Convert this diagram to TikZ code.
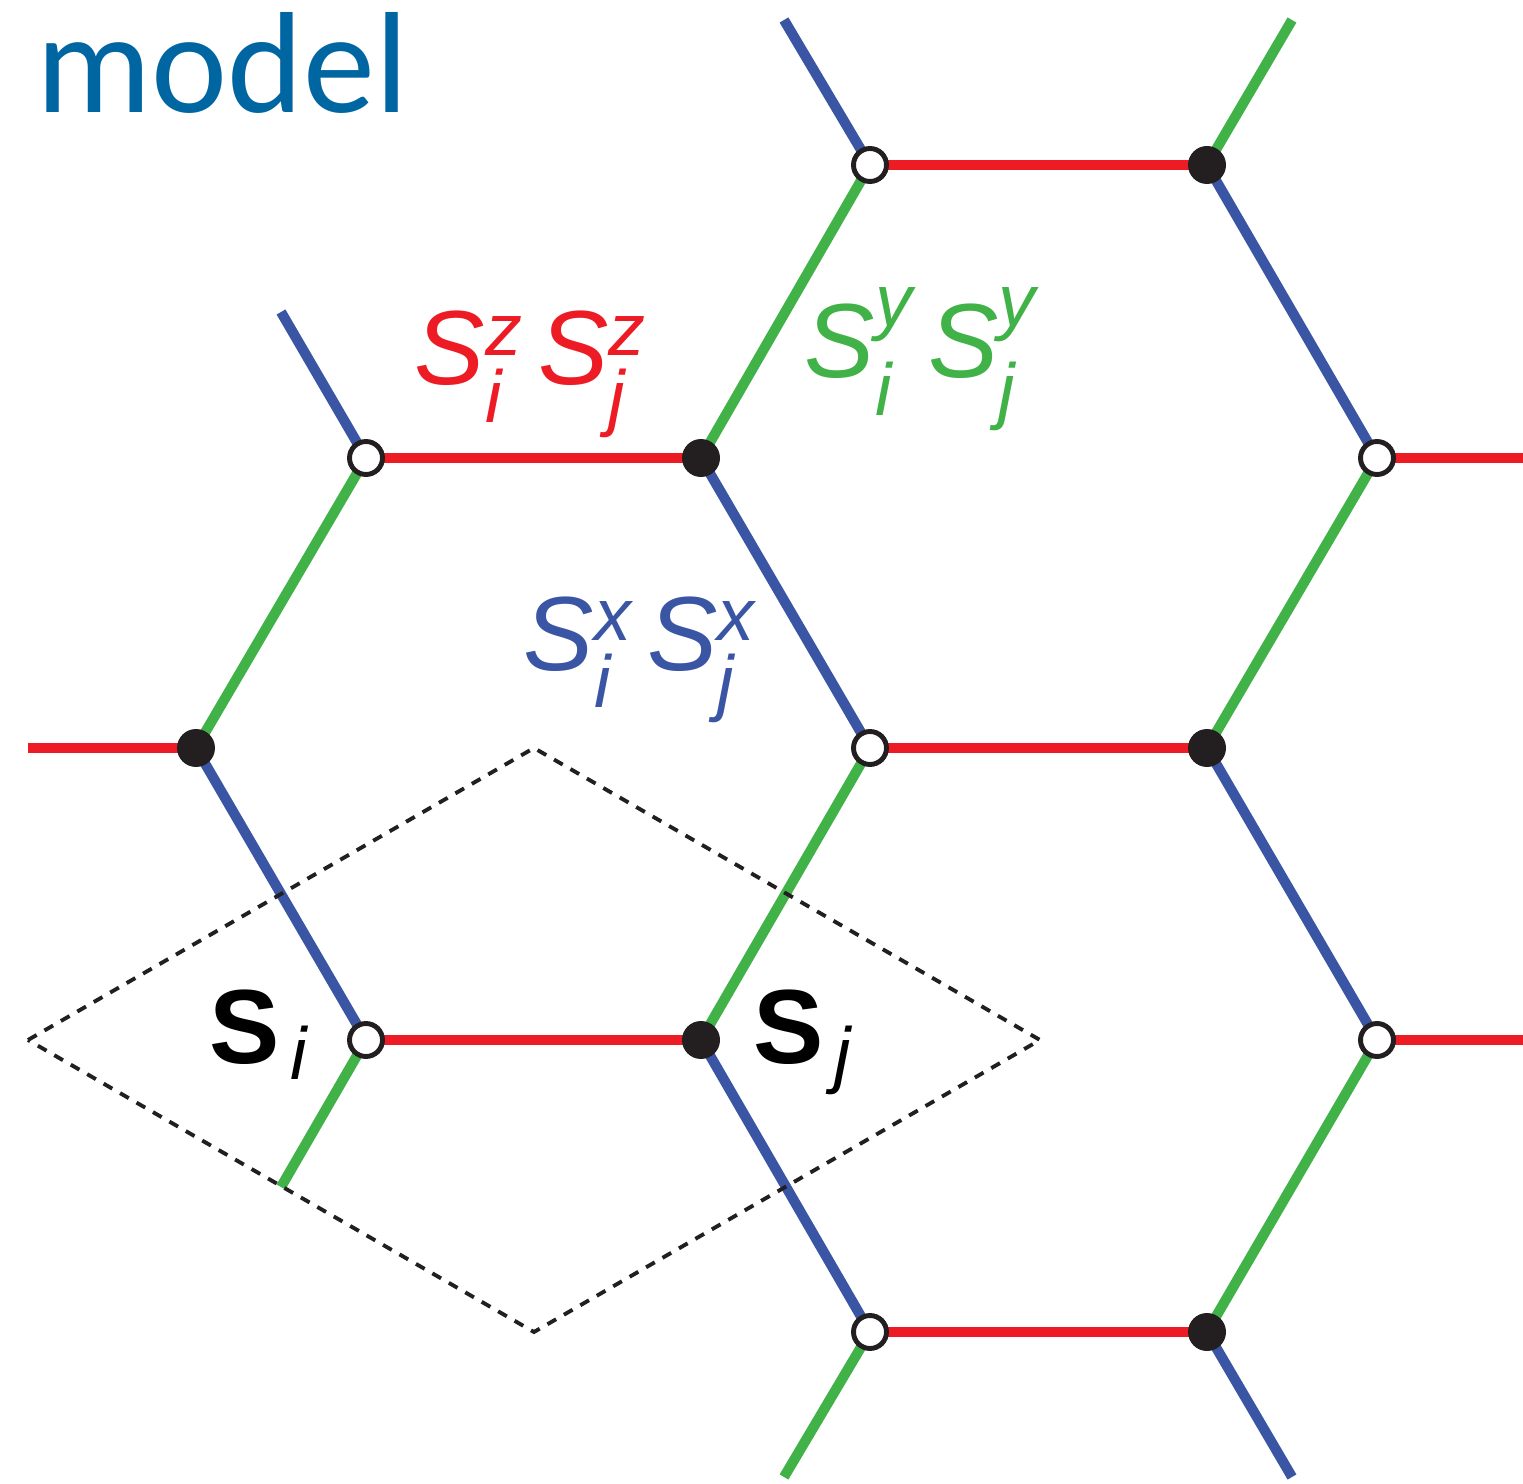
\documentclass[tikz,border=0pt]{standalone}
\usepackage{fontspec}
\setmainfont{Liberation Sans}
\newfontfamily\titlefont{Carlito}
\usetikzlibrary{backgrounds}
\definecolor{zred}{RGB}{237,28,36}
\definecolor{ygreen}{RGB}{64,178,72}
\definecolor{xblue}{RGB}{58,85,164}
\definecolor{site}{RGB}{35,31,32}
\definecolor{titleblue}{RGB}{0,102,162}

\newcommand{\spinix}[3][8.5pt]{\rlap{\raisebox{-10.8pt}{\fontsize{21}{21}\selectfont #2}}\raisebox{#1}{\fontsize{21}{21}\selectfont #3}}
\newcommand{\spinpair}[2][8.5pt]{\itshape S\spinix[#1]{i}{#2}\hspace{4.6pt}S\spinix[#1]{j}{#2}}

\begin{document}
\begin{tikzpicture}[
  opensite/.style={circle,draw=site,fill=white,line width=1.4pt,inner sep=0pt,minimum size=0.33cm},
  fullsite/.style={circle,fill=site,inner sep=0pt,minimum size=0.38cm},
  zbond/.style={zred,line width=2.9pt},
  ybond/.style={ygreen,line width=2.9pt},
  xbond/.style={xblue,line width=2.9pt},
  cellline/.style={site,line width=1.1pt,dash pattern=on 2.85pt off 2.55pt},
  spinlabel/.style={anchor=base west,font=\fontsize{30}{36}\selectfont}
]
\useasboundingbox (0,0) rectangle (15.23,-14.84);

% sites, open = A, filled = B
\node[opensite] (a1) at (8.70,-1.65) {};
\node[fullsite] (b1) at (12.07,-1.65) {};
\node[opensite] (a2) at (3.66,-4.58) {};
\node[fullsite] (b2) at (7.01,-4.58) {};
\node[opensite] (a3) at (13.77,-4.58) {};
\node[fullsite] (b3) at (1.96,-7.48) {};
\node[opensite] (a4) at (8.70,-7.48) {};
\node[fullsite] (b4) at (12.07,-7.48) {};
\node[opensite] (a5) at (3.66,-10.40) {};
\node[fullsite] (b5) at (7.01,-10.40) {};
\node[opensite] (a6) at (13.77,-10.40) {};
\node[opensite] (a7) at (8.70,-13.32) {};
\node[fullsite] (b6) at (12.07,-13.32) {};

% loose bond ends
\coordinate (t1) at (7.84,-0.20);
\coordinate (t2) at (12.92,-0.20);
\coordinate (t3) at (2.81,-3.12);
\coordinate (r1) at (15.23,-4.58);
\coordinate (l1) at (0.28,-7.48);
\coordinate (r2) at (15.23,-10.40);
\coordinate (d1) at (2.81,-11.87);
\coordinate (d2) at (7.84,-14.77);
\coordinate (d3) at (12.92,-14.77);

\begin{scope}[on background layer]
% z bonds
\draw[zbond] (a1.center) -- (b1.center);
\draw[zbond] (a2.center) -- (b2.center);
\draw[zbond] (a3.center) -- (r1);
\draw[zbond] (l1) -- (b3.center);
\draw[zbond] (a4.center) -- (b4.center);
\draw[zbond] (a5.center) -- (b5.center);
\draw[zbond] (a6.center) -- (r2);
\draw[zbond] (a7.center) -- (b6.center);
% y bonds
\draw[ybond] (a1.center) -- (b2.center);
\draw[ybond] (b1.center) -- (t2);
\draw[ybond] (a2.center) -- (b3.center);
\draw[ybond] (a3.center) -- (b4.center);
\draw[ybond] (a4.center) -- (b5.center);
\draw[ybond] (a5.center) -- (d1);
\draw[ybond] (a6.center) -- (b6.center);
\draw[ybond] (a7.center) -- (d2);
% x bonds
\draw[xbond] (t1) -- (a1.center);
\draw[xbond] (b1.center) -- (a3.center);
\draw[xbond] (t3) -- (a2.center);
\draw[xbond] (b2.center) -- (a4.center);
\draw[xbond] (b3.center) -- (a5.center);
\draw[xbond] (b4.center) -- (a6.center);
\draw[xbond] (b5.center) -- (a7.center);
\draw[xbond] (b6.center) -- (d3);
\end{scope}

% unit cell
\draw[cellline] (0.28,-10.40) -- (5.34,-7.48) -- (10.40,-10.40) -- (5.34,-13.32) -- cycle;

\node[anchor=base west,text=titleblue,font=\titlefont\fontsize{41}{48}\selectfont,inner sep=0pt] (title) at (0.36,-1.13) {model};
\node[spinlabel,text=zred,inner sep=0pt] (zlab) at (4.14,-3.85) {\spinpair{z}};
\node[spinlabel,text=ygreen,inner sep=0pt] (ylab) at (8.04,-3.78) {\spinpair[14.6pt]{y}};
\node[spinlabel,text=xblue,inner sep=0pt] (xlab) at (5.23,-6.70) {\spinpair{x}};
\node[spinlabel,inner sep=0pt] (si) at (2.09,-10.63) {\bfseries S\hspace{3pt}\raisebox{-4.8pt}{\fontsize{21}{21}\selectfont\mdseries\itshape i}};
\node[spinlabel,inner sep=0pt] (sj) at (7.53,-10.63) {\bfseries S\hspace{3pt}\raisebox{-4.8pt}{\fontsize{21}{21}\selectfont\mdseries\itshape j}};
\end{tikzpicture}
\end{document}
